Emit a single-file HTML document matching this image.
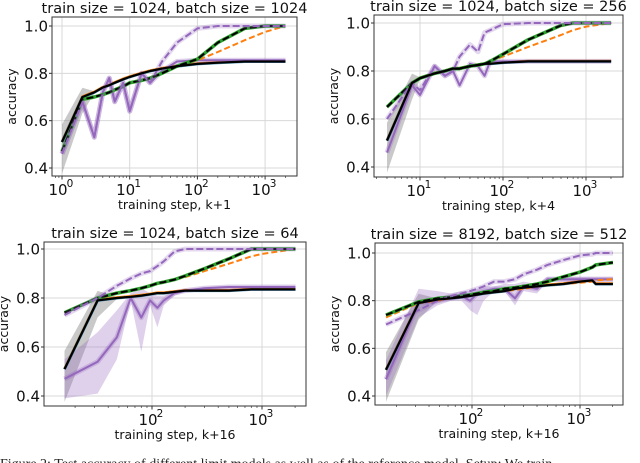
<!DOCTYPE html>
<html><head><meta charset="utf-8">
<style>
html,body{margin:0;padding:0;background:#fff;width:640px;height:463px;overflow:hidden;}
svg{display:block;font-family:"DejaVu Sans","Liberation Sans",sans-serif;}
</style></head>
<body>
<svg id="fig" width="640" height="463" viewBox="0 0 640 463" xmlns="http://www.w3.org/2000/svg">
<text x="0" y="468" font-family="Liberation Serif, serif" font-size="14" fill="#222">Figure 2: Test accuracy of different limit models as well as of the reference model. Setup: We train</text>
</svg>
<script>
// ---- data (x = training step + offset) ----
const p1Steps = [1,2,3,4,5,6,8,10,15,20,30,50,100,200,500,1000,2000];
const p1BlackSolid = [0.51,0.70,0.72,0.74,0.75,0.76,0.775,0.785,0.80,0.81,0.82,0.83,0.84,0.845,0.85,0.85,0.85];
const p1BlackDashed = [0.47,0.69,0.70,0.71,0.72,0.73,0.745,0.76,0.77,0.78,0.80,0.83,0.86,0.93,0.99,1.0,1.0];
const p1OrangeDashed = [0.47,0.69,0.70,0.71,0.72,0.73,0.745,0.76,0.77,0.78,0.80,0.83,0.855,0.89,0.94,0.975,1.0];
const p1PurpleDashed = [0.46,0.68,0.53,0.72,0.78,0.68,0.76,0.64,0.80,0.76,0.85,0.93,0.99,1.0,1.0,1.0,1.0];
const p1PurpleSolid = [0.46,0.68,0.53,0.72,0.78,0.68,0.76,0.64,0.80,0.76,0.81,0.85,0.855,0.855,0.855,0.855,0.855];

const p2Steps = [4,8,10,15,20,25,30,40,50,60,70,100,200,500,700,1000,2004];
const p2BlackSolid = [0.51,0.75,0.77,0.79,0.80,0.81,0.81,0.82,0.825,0.83,0.83,0.835,0.84,0.84,0.84,0.84,0.84];
const p2BlackDashed = [0.65,0.75,0.77,0.79,0.80,0.81,0.81,0.82,0.825,0.83,0.84,0.87,0.93,0.99,1.0,1.0,1.0];
const p2OrangeDashed = [0.65,0.75,0.77,0.79,0.80,0.81,0.81,0.82,0.825,0.83,0.84,0.86,0.90,0.95,0.97,0.985,1.0];
const p2PurpleDashed = [0.60,0.75,0.72,0.82,0.78,0.80,0.86,0.91,0.88,0.96,0.97,0.995,1.0,1.0,1.0,1.0,1.0];
const p2PurpleSolid = [0.46,0.74,0.70,0.82,0.78,0.80,0.74,0.83,0.82,0.78,0.84,0.84,0.84,0.84,0.84,0.84,0.84];

const p3Steps = [16,32,48,64,80,96,112,128,160,200,300,500,800,1000,2016];
const p3BlackSolid = [0.51,0.79,0.80,0.805,0.81,0.815,0.82,0.82,0.825,0.83,0.83,0.83,0.835,0.835,0.835];
const p3BlackDashed = [0.74,0.80,0.82,0.83,0.84,0.85,0.86,0.865,0.875,0.89,0.92,0.96,1.0,1.0,1.0];
const p3OrangeDashed = [0.74,0.80,0.82,0.83,0.84,0.85,0.86,0.865,0.875,0.885,0.91,0.94,0.97,0.98,1.0];
const p3PurpleDashed = [0.73,0.80,0.85,0.88,0.90,0.91,0.93,0.95,0.99,1.0,1.0,1.0,1.0,1.0,1.0];
const p3PurpleSolid = [0.47,0.54,0.64,0.80,0.72,0.79,0.76,0.79,0.82,0.83,0.84,0.845,0.845,0.845,0.845];
const p3PurpleLow = [0.39,0.41,0.55,0.79,0.58,0.77,0.68,0.77,0.81,0.825,0.835,0.84,0.84,0.84,0.84];
const p3PurpleHigh = [0.55,0.66,0.75,0.82,0.84,0.82,0.81,0.81,0.83,0.835,0.845,0.85,0.85,0.85,0.85];

const p4Steps = [16,32,48,64,80,96,112,128,160,200,250,300,400,500,700,1000,1300,1400,2016];
const p4BlackSolid = [0.51,0.79,0.805,0.81,0.815,0.82,0.825,0.83,0.835,0.84,0.85,0.855,0.86,0.865,0.87,0.88,0.885,0.87,0.87];
const p4BlackDashed = [0.74,0.795,0.81,0.815,0.82,0.825,0.83,0.835,0.84,0.85,0.855,0.86,0.87,0.88,0.90,0.92,0.94,0.95,0.96];
const p4OrangeDashed = [0.73,0.79,0.80,0.81,0.815,0.82,0.825,0.83,0.835,0.84,0.845,0.85,0.86,0.865,0.87,0.875,0.88,0.885,0.89];
const p4PurpleDashed = [0.70,0.76,0.80,0.82,0.83,0.84,0.85,0.86,0.88,0.88,0.89,0.91,0.93,0.95,0.97,0.99,0.995,1.0,1.0];
const p4PurpleSolid = [0.47,0.79,0.80,0.81,0.82,0.80,0.83,0.84,0.85,0.85,0.81,0.86,0.85,0.89,0.89,0.89,0.89,0.89,0.89];
const p4PurpleLow = [0.40,0.73,0.78,0.80,0.80,0.76,0.74,0.80,0.84,0.84,0.78,0.84,0.83,0.88,0.88,0.88,0.88,0.88,0.88];
const p4PurpleHigh = [0.55,0.85,0.84,0.83,0.84,0.84,0.85,0.86,0.86,0.87,0.87,0.88,0.87,0.90,0.90,0.90,0.90,0.90,0.90];

const yTicks = [0.4,0.6,0.8,1.0];
const yTickLabels = ["0.4","0.6","0.8","1.0"];

const panels = [
 {name:"panel-1024-1024", title:"train size = 1024, batch size = 1024", xlabel:"training step, k+1",
  box:[52,17,297,176], ref:[0,62], dec:67.7, y04:168, y10:26, xdec:[0,1,2,3],
  steps:p1Steps, bs:p1BlackSolid, bd:p1BlackDashed, od:p1OrangeDashed, pd:p1PurpleDashed, ps:p1PurpleSolid},
 {name:"panel-1024-256", title:"train size = 1024, batch size = 256", xlabel:"training step, k+4",
  box:[374,15,623,177], ref:[1,420], dec:83, y04:167, y10:23, xdec:[1,2,3],
  steps:p2Steps, bs:p2BlackSolid, bd:p2BlackDashed, od:p2OrangeDashed, pd:p2PurpleDashed, ps:p2PurpleSolid},
 {name:"panel-1024-64", title:"train size = 1024, batch size = 64", xlabel:"training step, k+16",
  box:[44,242,306,406], ref:[2,152], dec:110, y04:396, y10:249, xdec:[2,3],
  steps:p3Steps, bs:p3BlackSolid, bd:p3BlackDashed, od:p3OrangeDashed, pd:p3PurpleDashed, ps:p3PurpleSolid, pl:p3PurpleLow, ph:p3PurpleHigh},
 {name:"panel-8192-512", title:"train size = 8192, batch size = 512", xlabel:"training step, k+16",
  box:[375,243,623,405], ref:[2,472], dec:108, y04:396, y10:253, xdec:[2,3],
  steps:p4Steps, bs:p4BlackSolid, bd:p4BlackDashed, od:p4OrangeDashed, pd:p4PurpleDashed, ps:p4PurpleSolid, pl:p4PurpleLow, ph:p4PurpleHigh}
];

const NS = "http://www.w3.org/2000/svg";
const svg = document.getElementById("fig");
function mk(tag, attrs, parent){const e=document.createElementNS(NS,tag);for(const k in attrs)e.setAttribute(k,attrs[k]);(parent||svg).appendChild(e);return e;}

panels.forEach(p=>{
  const g = mk("g",{});
  
  
  const [L,T,R,B]=p.box;
  const xs = v => p.ref[1] + p.dec*(Math.log10(v)-p.ref[0]);
  const ys = v => p.y04 - (v-0.4)*(p.y04-p.y10)/0.6;
  const clipId = "c"+p.name;
  const cp = mk("clipPath",{id:clipId},g); mk("rect",{x:L,y:T,width:R-L,height:B-T},cp);
  yTicks.forEach((t,i)=>{
    const gl = mk("line",{x1:L,x2:R,y1:ys(t),y2:ys(t),stroke:"#d8d8d8","stroke-width":1},g);
    
    
    const tl = mk("text",{x:L-4,y:ys(t)+5.5,"text-anchor":"end","font-size":15,fill:"#111"},g);
    tl.textContent = yTickLabels[i];
    
    
    mk("line",{x1:L-3,x2:L,y1:ys(t),y2:ys(t),stroke:"#333"},g);
  });
  p.xdec.forEach(d=>{
    const x = xs(Math.pow(10,d));
    const gl = mk("line",{x1:x,x2:x,y1:T,y2:B,stroke:"#d8d8d8","stroke-width":1},g);
    
    
    mk("line",{x1:x,x2:x,y1:B,y2:B+3.5,stroke:"#333"},g);
    const tl = mk("text",{x:x-4,y:B+19,"text-anchor":"middle","font-size":15,fill:"#111"},g);
    tl.textContent = "10";
    
    
    const sup = mk("text",{x:x+8,y:B+11,"text-anchor":"middle","font-size":10.5,fill:"#111"},g);
    sup.textContent = String(d);
  });
  for(let d=-1; d<4; d++){for(let m=2;m<10;m++){const v=m*Math.pow(10,d);const x=xs(v);if(x>L&&x<R)mk("line",{x1:x,x2:x,y1:B,y2:B+2,stroke:"#555","stroke-width":0.8},g);}}
  const dg = mk("g",{"clip-path":"url(#"+clipId+")"},g);
  const path = arr => arr.map((v,i)=>(i?"L":"M")+xs(p.steps[i]).toFixed(1)+","+ys(v).toFixed(1)).join("");
  const gl = p.bs.map((v,i)=>v-Math.max(0,0.13-i*0.065)-0.004);
  const gh = p.bs.map((v,i)=>v+Math.max(0,0.07-i*0.035)+0.004);
  const band = (lo,hi,fill,op,nm)=>{
    const d = path(hi)+p.steps.slice().reverse().map((s,j)=>"L"+xs(s).toFixed(1)+","+ys(lo[lo.length-1-j]).toFixed(1)).join("")+"Z";
    const e = mk("path",{d:d,fill:fill,"fill-opacity":op,stroke:"none"},dg);
    
    
  };
  band(gl,gh,"#888",0.45,"reference-band");
  if(p.pl) band(p.pl,p.ph,"#9467bd",0.3,"purple-band");
  const line=(arr,col,w,dash,nm,op)=>{
    const e=mk("path",{d:path(arr),fill:"none",stroke:col,"stroke-width":w,"stroke-dasharray":dash||"none","stroke-opacity":op||1,"stroke-linejoin":"round"},dg);
    
    
  };
  line(p.bs,"#1f77b4",3,null,"blue-solid-line",0.8);
  line(p.bs.map(v=>v+0.003),"#ff7f0e",2,null,"orange-solid-line");
  line(p.bs,"#2ca02c",2,null,"green-solid-line");
  line(p.ps,"#9467bd",5,null,"purple-solid-halo",0.3);
  line(p.ps,"#9467bd",2,null,"purple-solid-line");
  line(p.od,"#ff7f0e",2,"6,3","orange-dashed-line");
  line(p.bd,"#2ca02c",3.5,null,"green-dashed-line");
  line(p.bd,"#000",2,"7,3","black-dashed-line");
  line(p.pd,"#9467bd",5,null,"purple-dashed-halo",0.25);
  line(p.pd,"#9467bd",2,"7,3","purple-dashed-line");
  line(p.bs,"#000",2.2,null,"black-solid-line");
  const fr = mk("rect",{x:L,y:T,width:R-L,height:B-T,fill:"none",stroke:"#333","stroke-width":1},g);
  
  
  const tt = mk("text",{x:(L+R)/2,y:T-4,"text-anchor":"middle","font-size":14.5,fill:"#111"},g);
  tt.textContent = p.title;
  
  
  const xl = mk("text",{x:(L+R)/2,y:B+33,"text-anchor":"middle","font-size":12.5,fill:"#111"},g);
  xl.textContent = p.xlabel;
  
  
  const yl = mk("text",{x:0,y:0,"text-anchor":"middle","font-size":12.5,fill:"#111",transform:"translate("+(L-36)+","+((T+B)/2)+") rotate(-90)"},g);
  yl.textContent = "accuracy";
  
  
});
</script>
</body></html>
